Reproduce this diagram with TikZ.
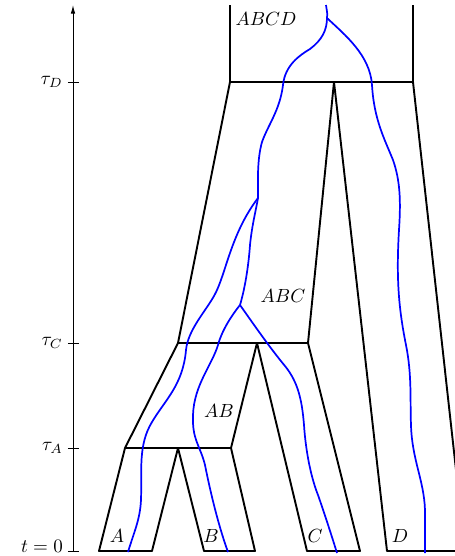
\documentclass[tikz,border=0pt]{standalone}
\usepackage{amsmath,amssymb}
\usepackage{xcolor}
\usetikzlibrary{arrows.meta}

\begin{document}
\begin{tikzpicture}[x=0.525pt, y=-0.525pt, >={Latex[length=4.5pt,width=2.4pt]},
    pop/.style={draw, black, line width=1pt, line join=round},
    gene/.style={draw, blue, line width=0.9pt},
    axis/.style={draw, line width=0.5pt},
    lab/.style={inner sep=0pt}]

    \useasboundingbox (0,0) rectangle (455,556);

    % time axis
    \coordinate (origin) at (73,551);
    \coordinate (axtop) at (73,5);
    \draw [axis, ->] (origin) -- (axtop);
    \foreach \y/\name/\txt in {82/tD/\tau_D, 343/tC/\tau_C, 448/tA/\tau_A} {
        \draw [axis] (68,\y) -- (79,\y);
        \node [left, inner sep=2pt] (\name) at (67,\y) {$\txt$};
    }
    \draw [axis] (68,551) -- (79,551);
    \node [left, inner sep=2pt] (t0) at (67,546) {$t=0$};

    % population tree
    \coordinate (abcdL) at (230,82);
    \coordinate (abcdR) at (413,82);
    \coordinate (abcL) at (178,343);
    \coordinate (abcR) at (308,343);
    \coordinate (abL) at (125,448);
    \coordinate (abR) at (231,448);
    \coordinate (splitAB) at (178,448);
    \coordinate (splitC) at (257,343);
    \coordinate (splitD) at (334,82);

    \draw [pop] (230,5) -- (abcdL) -- (abcL) -- (abL) -- (99,551) -- (152,551) -- (splitAB)
        -- (204,551) -- (255,551) -- (abR) -- (splitC) -- (307,551) -- (360,551) -- (abcR)
        -- (splitD) -- (387,551) -- (465,551) -- (abcdR) -- (413,5);
    \draw [pop] (abL) -- (abR);
    \draw [pop] (abcL) -- (abcR);
    \draw [pop] (abcdL) -- (abcdR);

    % population labels
    \node [lab] (ABCD) at (266,19) {$ABCD$};
    \node [lab] (ABC) at (283,296) {$ABC$};
    \node [lab] (AB) at (219,411) {$AB$};
    \node [lab] (A) at (117,536) {$A$};
    \node [lab] (B) at (211,536) {$B$};
    \node [lab] (C) at (315,536) {$C$};
    \node [lab] (D) at (400,536) {$D$};

    % gene tree
    \coordinate (mrca) at (327,18);
    \coordinate (cABC) at (258,198);
    \coordinate (cBC) at (240,305);

    \draw [gene] (128,552) .. controls (134,532) and (140,520) .. (141,500)
        .. controls (142,470) and (138,445) .. (152,422)
        .. controls (165,400) and (183,385) .. (186,350)
        .. controls (188,330) and (205,312) .. (214,296)
        .. controls (226,275) and (230,235) .. (cABC);
    \draw [gene] (228,552) .. controls (220,530) and (212,500) .. (205,465)
        .. controls (200,445) and (192,440) .. (193,415)
        .. controls (194,385) and (212,365) .. (218,345)
        .. controls (222,330) and (232,315) .. (cBC);
    \draw [gene] (cBC) .. controls (252,322) and (270,348) .. (285,366)
        .. controls (298,382) and (302,400) .. (304,425)
        .. controls (306,455) and (312,480) .. (318,495)
        .. controls (325,515) and (333,540) .. (337,553);
    \draw [gene] (cBC) .. controls (246,285) and (249,260) .. (250,245)
        .. controls (252,225) and (256,210) .. (cABC);
    \draw [gene] (cABC) .. controls (258,180) and (257,160) .. (262,142)
        .. controls (268,125) and (280,110) .. (283,85)
        .. controls (285,65) and (300,55) .. (310,49)
        .. controls (322,40) and (327,30) .. (mrca);
    \draw [gene] (mrca) .. controls (345,35) and (370,55) .. (372,85)
        .. controls (374,120) and (385,140) .. (393,160)
        .. controls (400,180) and (401,200) .. (399,230)
        .. controls (396,280) and (399,310) .. (406,345)
        .. controls (412,375) and (410,400) .. (411,425)
        .. controls (412,460) and (424,480) .. (425,510) -- (425,553);
    \draw [gene] (mrca) .. controls (328,12) and (326,9) .. (326,5);
\end{tikzpicture}
\end{document}
